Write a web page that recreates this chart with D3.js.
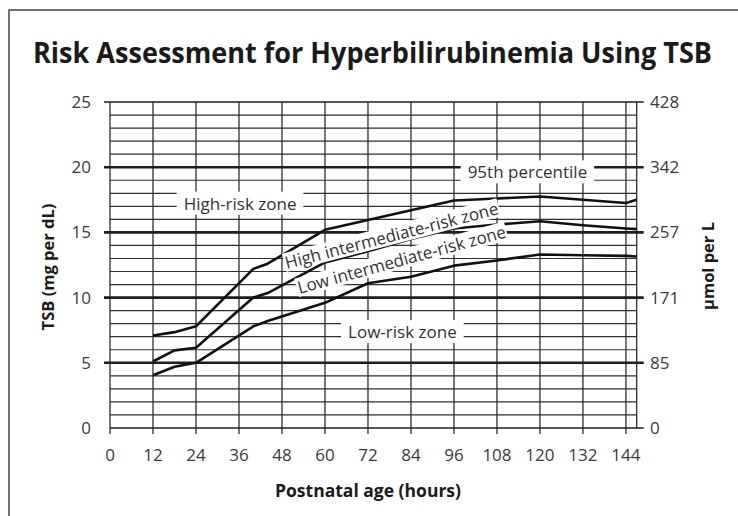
<!DOCTYPE html>
<html lang="en">
<head>
<meta charset="UTF-8">
<title>Risk Assessment for Hyperbilirubinemia Using TSB</title>
<script src="https://cdn.jsdelivr.net/npm/d3@7"></script>
<style>
  body { margin: 0; background: #fff; }
  svg { display: block; font-family: "Open Sans", "Noto Sans", sans-serif; }
</style>
</head>
<body>
<svg id="chart" width="738" height="516"></svg>
<script>
// postnatal age (hours) at which the curves were read
var hours = [12, 18, 24, 40, 44, 60, 72, 84, 96, 108, 120, 132, 144, 147];
// TSB mg/dL, 95th percentile curve
var tsbHigh = [7.1, 7.35, 7.8, 12.2, 12.6, 15.2, 15.95, 16.7, 17.45, 17.6, 17.75, 17.5, 17.25, 17.5];
// upper edge of the low intermediate zone
var tsbMid = [5.1, 5.95, 6.15, 10.0, 10.35, 12.7, 13.55, 14.5, 15.3, 15.6, 15.85, 15.55, 15.3, 15.25];
// upper edge of the low-risk zone
var tsbLow = [4.05, 4.7, 5.0, 7.8, 8.2, 9.6, 11.1, 11.6, 12.45, 12.85, 13.3, 13.25, 13.2, 13.15];

var xTicks = [0, 12, 24, 36, 48, 60, 72, 84, 96, 108, 120, 132, 144];
var yTicks = [0, 5, 10, 15, 20, 25];
var umolLabels = ["0", "85", "171", "257", "342", "428"];

var svg = d3.select("#chart");
var ink = "#2e2e2e";

var x = d3.scaleLinear().domain([0, 147]).range([110, 636.7]);
var y = d3.scaleLinear().domain([0, 25]).range([428, 102]);

// outer frame (left and top only)
svg.append("path")
  .attr("d", "M9,516 L9,10 L738,10")
  .attr("fill", "none").attr("stroke", "#444").attr("stroke-width", 1.5);

svg.append("text")
  .attr("x", 33).attr("y", 63)
  .attr("font-size", 28).attr("font-weight", "bold").attr("fill", "#1a1a1a")
  .attr("textLength", 679).attr("lengthAdjust", "spacingAndGlyphs")
  .text("Risk Assessment for Hyperbilirubinemia Using TSB");

var grid = svg.append("g");

// minor horizontal lines, every 1 mg/dL
grid.selectAll("line.minor")
  .data(d3.range(1, 25).filter(function (d) { return d % 5 !== 0; }))
  .enter().append("line")
  .attr("x1", x(0)).attr("x2", x(147))
  .attr("y1", function (d) { return y(d); })
  .attr("y2", function (d) { return y(d); })
  .attr("stroke", ink).attr("stroke-width", 1.2);

// vertical lines every 12 hours, plus the right edge
grid.selectAll("line.v")
  .data(xTicks)
  .enter().append("line")
  .attr("x1", function (d) { return x(d); })
  .attr("x2", function (d) { return x(d); })
  .attr("y1", y(25)).attr("y2", y(0) + 6)
  .attr("stroke", ink).attr("stroke-width", 1.3);
grid.append("line")
  .attr("x1", x(147)).attr("x2", x(147))
  .attr("y1", y(25)).attr("y2", y(0))
  .attr("stroke", ink).attr("stroke-width", 1.3);

// major horizontal lines
grid.selectAll("line.major")
  .data(yTicks)
  .enter().append("line")
  .attr("x1", function (d) { return d === 0 ? x(0) : x(0) - 6; })
  .attr("x2", x(147) + 7)
  .attr("y1", function (d) { return y(d); })
  .attr("y2", function (d) { return y(d); })
  .attr("stroke", "#1e1e1e")
  .attr("stroke-width", function (d) { return (d === 0 || d === 25) ? 1.3 : 2.6; });

// curves
var line = d3.line()
  .x(function (d) { return x(d[0]); })
  .y(function (d) { return y(d[1]); });

[tsbHigh, tsbMid, tsbLow].forEach(function (vals) {
  svg.append("path")
    .datum(d3.zip(hours, vals))
    .attr("d", line)
    .attr("fill", "none").attr("stroke", "#111")
    .attr("stroke-width", 2.6).attr("stroke-linejoin", "round");
});

// axis tick labels
var tickText = svg.append("g").attr("font-size", 17).attr("fill", "#3a3a3a");
tickText.selectAll("text.x")
  .data(xTicks).enter().append("text")
  .attr("x", function (d) { return x(d); })
  .attr("y", 461)
  .attr("text-anchor", "middle")
  .text(function (d) { return d; });
tickText.selectAll("text.yl")
  .data(yTicks).enter().append("text")
  .attr("x", 91)
  .attr("y", function (d) { return y(d); })
  .attr("dy", "0.35em")
  .attr("text-anchor", "end")
  .text(function (d) { return d; });
tickText.selectAll("text.yr")
  .data(yTicks).enter().append("text")
  .attr("x", 650)
  .attr("y", function (d) { return y(d); })
  .attr("dy", "0.35em")
  .text(function (d, i) { return umolLabels[i]; });

// axis titles
svg.append("text")
  .attr("transform", "translate(54,267) rotate(-90)")
  .attr("text-anchor", "middle")
  .attr("font-size", 16.5).attr("font-weight", "bold").attr("fill", "#1a1a1a")
  .text("TSB (mg per dL)");
svg.append("text")
  .attr("transform", "translate(714,266) rotate(-90)")
  .attr("text-anchor", "middle")
  .attr("font-size", 16.5).attr("font-weight", "bold").attr("fill", "#1a1a1a")
  .text("µmol per L");
svg.append("text")
  .attr("x", 368).attr("y", 497)
  .attr("text-anchor", "middle")
  .attr("font-size", 17.5).attr("font-weight", "bold").attr("fill", "#1a1a1a")
  .text("Postnatal age (hours)");

// zone labels on white patches
function zoneLabel(txt, h, v, angle, padX, padY) {
  var g = svg.append("g")
    .attr("transform", "translate(" + x(h) + "," + y(v) + ") rotate(" + angle + ")");
  var t = g.append("text")
    .attr("text-anchor", "middle")
    .attr("dy", "0.35em")
    .attr("font-size", 17).attr("fill", "#333")
    .text(txt);
  var b = t.node().getBBox();
  g.insert("rect", "text")
    .attr("x", b.x - padX).attr("y", b.y - padY)
    .attr("width", b.width + 2 * padX).attr("height", b.height + 2 * padY)
    .attr("fill", "#fff");
}

zoneLabel("95th percentile", 116.5, 19.6, 0, 7, 0);
zoneLabel("High-risk zone", 36.3, 17.2, 0, 7, 0);
zoneLabel("Low-risk zone", 81.6, 7.35, 0, 7, 0);
zoneLabel("High intermediate-risk zone", 78.6, 14.75, -14.5, 1, -2);
zoneLabel("Low intermediate-risk zone", 81.4, 12.9, -15.3, 1, -2);
</script>
</body>
</html>
